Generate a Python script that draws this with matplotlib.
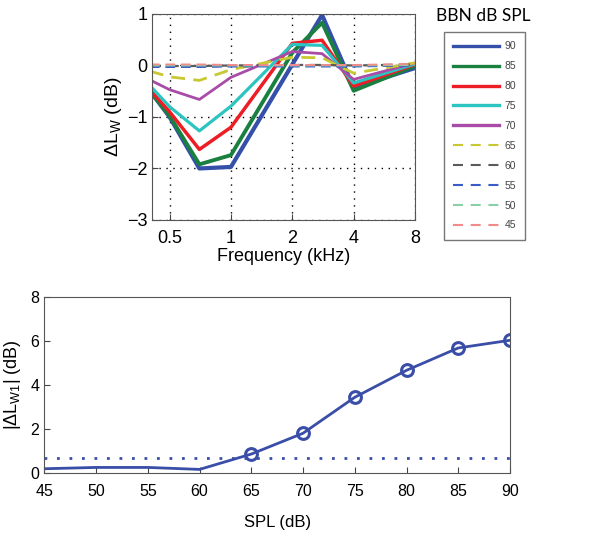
import matplotlib
matplotlib.use("Agg")
import matplotlib.pyplot as plt
from matplotlib.lines import Line2D
import numpy as np

plt.rcParams['font.family'] = ['Liberation Sans', 'DejaVu Sans']
plt.rcParams['mathtext.fontset'] = 'custom'
plt.rcParams['mathtext.rm'] = 'Liberation Sans'
plt.rcParams['mathtext.it'] = 'Liberation Sans:italic'

# ---- top panel data ----
freqs = [0.4, 0.5, 0.7, 1.0, 2.0, 2.8, 4.0, 8.0]
levels = [90, 85, 80, 75, 70, 65, 60, 55, 50, 45]
dl_90 = [-0.49, -1.00, -2.00, -1.97, 0.02, 0.98, -0.43, -0.05]
dl_85 = [-0.49, -0.98, -1.92, -1.74, 0.25, 0.83, -0.49, -0.01]
dl_80 = [-0.47, -0.90, -1.63, -1.20, 0.43, 0.49, -0.40, 0.02]
dl_75 = [-0.39, -0.80, -1.27, -0.79, 0.41, 0.39, -0.34, 0.03]
dl_70 = [-0.28, -0.47, -0.66, -0.23, 0.27, 0.23, -0.27, 0.05]
dl_65 = [-0.11, -0.22, -0.29, -0.08, 0.16, 0.15, -0.15, 0.05]
dl_60 = [-0.01, -0.01, -0.01, 0.00, 0.01, 0.01, 0.00, 0.02]
dl_55 = [-0.03, -0.03, -0.03, -0.02, -0.02, -0.02, -0.02, 0.00]
dl_50 = [0.00, 0.00, 0.00, 0.00, 0.00, 0.00, 0.00, 0.01]
dl_45 = [0.02, 0.02, 0.02, 0.01, 0.01, 0.01, 0.01, 0.03]
series = [dl_90, dl_85, dl_80, dl_75, dl_70, dl_65, dl_60, dl_55, dl_50, dl_45]
colors = ['#3450a8', '#1a8040', '#ee1c25', '#2cc4c0', '#a84ca8',
          '#c8c832', '#5a5a5a', '#3a5cc8', '#88d0a8', '#f28a8a']
styles = ['-'] * 5 + ['--'] * 5
widths = [3.0, 2.8, 2.5, 2.3, 2.0, 2.0, 1.6, 1.4, 1.4, 1.4]

freq_ticks = [0.5, 1, 2, 4, 8]
freq_ticklabels = ['0.5', '1', '2', '4', '8']

# ---- bottom panel data ----
spl = [45, 50, 55, 60, 65, 70, 75, 80, 85, 90]
abs_dlw1 = [0.18, 0.24, 0.24, 0.15, 0.85, 1.80, 3.44, 4.67, 5.69, 6.04]
marker_from = 65
threshold = 0.68

fig = plt.figure(figsize=(6.04, 5.36), dpi=100)

ax1 = fig.add_axes([0.2517, 0.5896, 0.4354, 0.3843])
for y, c, ls, lw in zip(series, colors, styles, widths):
    ax1.plot(freqs, y, color=c, ls=ls, lw=lw, dashes=(5, 3) if ls == '--' else (None, None))
ax1.set_xscale('log', base=2)
ax1.set_xlim(0.41, 8)
ax1.set_ylim(-3, 1)
ax1.set_xticks(freq_ticks)
ax1.set_xticklabels(freq_ticklabels)
ax1.minorticks_off()
ax1.set_yticks([-3, -2, -1, 0, 1])
ax1.set_yticklabels(['\u22123', '\u22122', '\u22121', '0', '1'])
ax1.grid(True, color='black', ls=(0, (1, 4)), lw=1.0)
ax1.tick_params(direction='in', labelsize=13, length=4, color='#444444')
ax1.tick_params(axis='x', pad=7)
for s in ax1.spines.values():
    s.set_color('#555555')
ax1.set_xlabel('Frequency (kHz)', fontsize=13, labelpad=1)
ax1.set_ylabel(r'$\Delta$L$_{\mathrm{W}}$ (dB)', fontsize=14, labelpad=2)

handles = [Line2D([], [], color=c, ls=ls, lw=(2.4 if i < 5 else 1.5),
                  dashes=(4.8, 3.7) if ls == '--' else (None, None))
           for i, (c, ls) in enumerate(zip(colors, styles))]
leg = fig.legend(handles, [str(l) for l in levels], loc='upper left',
                 bbox_to_anchor=(444 / 604, 1 - 32 / 536), fontsize=7.5,
                 handlelength=4.4, labelspacing=0.95, handletextpad=0.5,
                 borderpad=0.9, borderaxespad=0, frameon=True, fancybox=False,
                 labelcolor='#444444')
leg.get_frame().set_edgecolor('#555555')
leg.get_frame().set_linewidth(1.0)
fig.text(483 / 604, 1 - 16 / 536, 'BBN dB SPL', family='Lato', fontsize=12.5,
         ha='center', va='center')

ax2 = fig.add_axes([0.0733, 0.1181, 0.7711, 0.3272])
ax2.plot(spl, abs_dlw1, color='#3a4ea8', lw=2.0)
mk = [i for i, s in enumerate(spl) if s >= marker_from]
ax2.plot([spl[i] for i in mk], [abs_dlw1[i] for i in mk], ls='none', marker='o',
         ms=8.5, mfc='none', mec='#3a4ea8', mew=2.2)
ax2.axhline(threshold, color='#3a4ea8', ls=(0, (1, 3.5)), lw=2.0)
ax2.set_xlim(45, 90)
ax2.set_ylim(0, 8)
ax2.set_xticks(spl)
ax2.set_yticks([0, 2, 4, 6, 8])
ax2.tick_params(direction='in', labelsize=11.5, length=4, color='#444444')
ax2.tick_params(axis='x', pad=8)
for s in ax2.spines.values():
    s.set_color('#555555')
ax2.set_xlabel('SPL (dB)', fontsize=12, labelpad=12)
ax2.set_ylabel(r'|$\Delta$L$_{\mathrm{W1}}$| (dB)', fontsize=13, labelpad=5)

fig.savefig('out.png', dpi=100)
